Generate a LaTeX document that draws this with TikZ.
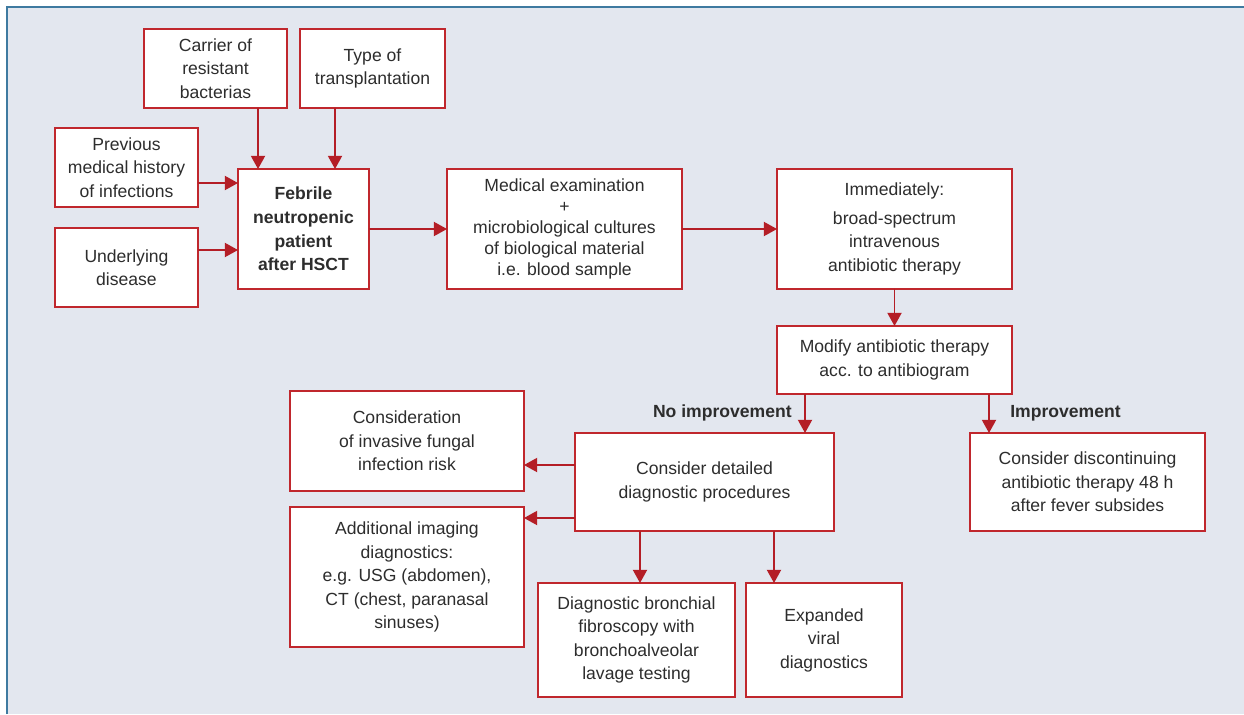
\documentclass[tikz,border=0pt]{standalone}
\usepackage{fontspec}
\setmainfont{Liberation Sans}
\usepackage{xcolor}
\definecolor{fcred}{RGB}{192,39,45}
\definecolor{fcarrow}{RGB}{180,30,38}
\definecolor{fcbg}{RGB}{227,231,239}
\definecolor{fcframe}{RGB}{62,122,160}
\definecolor{fctext}{RGB}{45,45,45}
\usetikzlibrary{arrows.meta,positioning,calc}
\tikzset{
  box/.style={draw=fcred, fill=white, line width=1pt, outer sep=0pt, align=center, inner sep=2pt, text=fctext, font=\fontsize{10}{13.4}\selectfont},
  arr/.style={draw=fcarrow, line width=1pt, -{Triangle[length=7.5pt,width=8pt]}},
  branch/.style={font=\fontsize{10}{12}\selectfont\bfseries, text=fctext, inner sep=0pt}
}
\begin{document}
\begin{tikzpicture}[x=0.02cm, y=-0.02cm]
  \useasboundingbox (0,0) rectangle (1244,714);
  \fill[white] (0,0) rectangle (1244,714);
  \fill[fcbg] (7,7) rectangle (1244,714);
  \draw[fcframe, line width=1.2pt] (7,714) -- (7,7) -- (1244,7);

  \node[box, minimum width=2.86cm, minimum height=1.58cm] (carrier) at (215.5,68.5) {Carrier of\\resistant\\bacterias};
  \node[box, minimum width=2.9cm, minimum height=1.58cm] (transpl) at (372.5,68.5) {Type of\\transplantation};
  \node[box, minimum width=2.86cm, minimum height=1.58cm] (history) at (126.5,167.5) {Previous\\medical history\\of infections};
  \node[box, minimum width=2.86cm, minimum height=1.58cm] (disease) at (126.5,267.5) {Underlying\\disease};
  \node[box, minimum width=2.62cm, minimum height=2.4cm, font=\fontsize{10}{13.4}\selectfont\bfseries] (patient) at (303.5,229) {Febrile\\neutropenic\\patient\\after HSCT};
  \node[box, minimum width=4.7cm, minimum height=2.4cm, font=\fontsize{10}{12}\selectfont] (exam) at (564.5,229) {Medical examination\\+\\microbiological cultures\\of biological material\\i.e. blood sample};
  \node[box, minimum width=4.7cm, minimum height=2.4cm] (therapy) at (894.5,229) {Immediately:\\[3pt]broad-spectrum\\intravenous\\antibiotic therapy};
  \node[box, minimum width=4.7cm, minimum height=1.36cm] (modify) at (894.5,360) {Modify antibiotic therapy\\acc. to antibiogram};
  \node[box, minimum width=5.18cm, minimum height=1.96cm] (detailed) at (704.5,482) {Consider detailed\\diagnostic procedures};
  \node[box, minimum width=4.7cm, minimum height=1.96cm] (discont) at (1087.5,482) {Consider discontinuing\\antibiotic therapy 48 h\\after fever subsides};
  \node[box, minimum width=4.68cm, minimum height=2.0cm] (fungal) at (407,441) {Consideration\\of invasive fungal\\infection risk};
  \node[box, minimum width=4.68cm, minimum height=2.8cm] (imaging) at (407,577) {Additional imaging\\diagnostics:\\e.g. USG (abdomen),\\CT (chest, paranasal\\sinuses)};
  \node[box, minimum width=3.94cm, minimum height=2.28cm] (fibro) at (636.5,640) {Diagnostic bronchial\\fibroscopy with\\bronchoalveolar\\lavage testing};
  \node[box, minimum width=3.12cm, minimum height=2.28cm] (viral) at (824,640) {Expanded\\viral\\diagnostics};

  \node[branch, anchor=east] (noimpr) at (792,413) {No improvement};
  \node[branch, anchor=west] (impr) at (1010,413) {Improvement};

  \draw[arr] ($(carrier.south)+(42.5,0)$) -- ($(patient.north west)+(20,0)$);
  \draw[arr] ($(transpl.south)+(-37.5,0)$) -- ($(patient.north west)+(97,0)$);
  \draw[arr] ($(history.east)+(0,15.5)$) -- ($(patient.west)+(0,-46)$);
  \draw[arr] ($(disease.east)+(0,-17.5)$) -- ($(patient.west)+(0,21)$);
  \draw[arr] (patient.east) -- (exam.west);
  \draw[arr] (exam.east) -- (therapy.west);
  \draw[arr] (therapy.south) -- (modify.north);
  \draw[arr] ($(modify.south)+(-89.5,0)$) -- ($(detailed.north)+(100.5,0)$);
  \draw[arr] ($(modify.south)+(94.5,0)$) -- ($(discont.north)+(-98.5,0)$);
  \draw[arr] ($(detailed.west)+(0,-17)$) -- ($(fungal.east)+(0,24)$);
  \draw[arr] ($(detailed.west)+(0,36)$) -- ($(imaging.east)+(0,-59)$);
  \draw[arr] ($(detailed.south)+(-64.5,0)$) -- ($(fibro.north)+(3.5,0)$);
  \draw[arr] ($(detailed.south)+(69.5,0)$) -- ($(viral.north)+(-50,0)$);
\end{tikzpicture}
\end{document}
